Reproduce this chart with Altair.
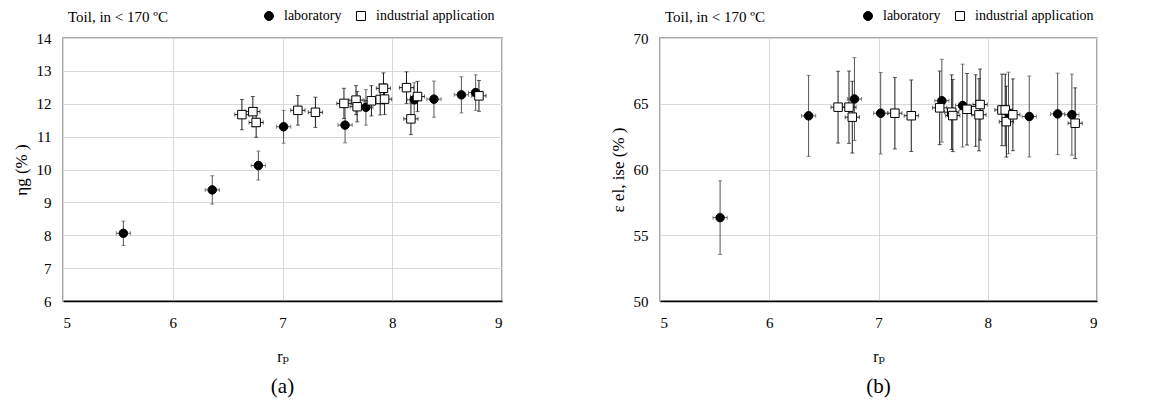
import altair as alt
import pandas as pd

FONT = "'Liberation Serif', 'Times New Roman', Times, 'DejaVu Serif', serif"
GROUPS = ["laboratory", "industrial application"]
ERR_COLORS = ["#555555", "#1a1a1a"]
NOTE = "Toil, in  < 170 ºC"

# ---- panel (a): eta_g ----
a_lab_x = [5.55, 6.36, 6.78, 7.01, 7.57, 7.76, 8.20, 8.38, 8.63, 8.76]
a_lab_y = [8.06, 9.38, 10.12, 11.30, 11.35, 11.89, 12.12, 12.14, 12.27, 12.34]
a_lab_e = [0.37, 0.43, 0.44, 0.50, 0.54, 0.54, 0.52, 0.55, 0.55, 0.54]
a_ind_x = [6.63, 6.73, 6.76, 7.14, 7.30, 7.56, 7.67, 7.68, 7.81, 7.89, 7.92, 7.93, 8.13, 8.17, 8.23, 8.79]
a_ind_y = [11.67, 11.76, 11.43, 11.80, 11.74, 12.01, 12.11, 11.91, 12.09, 12.13, 12.47, 12.14, 12.49, 11.54, 12.22, 12.24]
a_ind_e = [0.46, 0.46, 0.45, 0.45, 0.46, 0.46, 0.44, 0.46, 0.46, 0.47, 0.47, 0.47, 0.48, 0.48, 0.46, 0.47]
a_lab_xe = [0.065] * 10
a_ind_xe = [0.065] * 16

# ---- panel (b): epsilon el, ise ----
b_lab_x = [5.55, 6.36, 6.78, 7.02, 7.58, 7.77, 8.19, 8.38, 8.64, 8.77]
b_lab_y = [56.34, 64.08, 65.36, 64.28, 65.23, 64.86, 64.30, 64.03, 64.23, 64.17]
b_lab_e = [2.80, 3.08, 3.15, 3.10, 3.15, 3.15, 3.10, 3.08, 3.10, 3.08]
b_ind_x = [6.63, 6.73, 6.76, 7.15, 7.30, 7.56, 7.67, 7.68, 7.81, 7.89, 7.93, 7.92, 8.13, 8.16, 8.17, 8.23, 8.80]
b_ind_y = [64.74, 64.74, 63.98, 64.28, 64.09, 64.69, 64.36, 64.10, 64.58, 64.48, 64.94, 64.16, 64.53, 64.53, 63.64, 64.16, 63.52]
b_ind_e = [2.73, 2.75, 2.73, 2.72, 2.72, 2.80, 2.84, 2.74, 2.72, 2.72, 2.70, 2.74, 2.72, 2.72, 2.70, 2.73, 2.69]
b_lab_xe = [0.065] * 10
b_ind_xe = [0.065] * 17


def make_df(lx, ly, le, lxe, ix, iy, ie, ixe):
    rows = []
    for g, xs, ys, es, xes in [(GROUPS[0], lx, ly, le, lxe), (GROUPS[1], ix, iy, ie, ixe)]:
        for x, y, e, xe in zip(xs, ys, es, xes):
            rows.append({"group": g, "x": x, "y": y, "ylo": y - e, "yhi": y + e,
                         "xlo": x - xe, "xhi": x + xe})
    return pd.DataFrame(rows)


def panel(df, ydom, ytickvals, ytitle, letter, width, legx):
    xs = alt.Scale(domain=[5, 9], nice=False, zero=False)
    ys = alt.Scale(domain=ydom, nice=False, zero=False)
    xaxis = alt.Axis(title="rₚ", values=[5, 6, 7, 8, 9], format="d", labelPadding=14,
                     titlePadding=18, grid=True)
    yaxis = alt.Axis(title=ytitle, values=ytickvals, format="d", labelPadding=12,
                     titlePadding=6, grid=True, titleFontSize=17)
    layers = []
    for g, col in zip(GROUPS, ERR_COLORS):
        base = alt.Chart(df).transform_filter(alt.datum.group == g)
        layers += [
            base.mark_rule(strokeWidth=1, color=col).encode(
                x=alt.X("x:Q", scale=xs, axis=xaxis), y=alt.Y("ylo:Q", scale=ys, axis=yaxis), y2="yhi:Q"),
            base.mark_tick(orient="horizontal", size=4, thickness=1, color=col).encode(
                x=alt.X("x:Q", scale=xs, axis=xaxis), y=alt.Y("ylo:Q", scale=ys, axis=yaxis)),
            base.mark_tick(orient="horizontal", size=4, thickness=1, color=col).encode(
                x=alt.X("x:Q", scale=xs, axis=xaxis), y=alt.Y("yhi:Q", scale=ys, axis=yaxis)),
            base.mark_rule(strokeWidth=1, color=col).encode(
                x=alt.X("xlo:Q", scale=xs, axis=xaxis), x2="xhi:Q", y=alt.Y("y:Q", scale=ys, axis=yaxis)),
            base.mark_tick(orient="vertical", size=4, thickness=1, color=col).encode(
                x=alt.X("xlo:Q", scale=xs, axis=xaxis), y=alt.Y("y:Q", scale=ys, axis=yaxis)),
            base.mark_tick(orient="vertical", size=4, thickness=1, color=col).encode(
                x=alt.X("xhi:Q", scale=xs, axis=xaxis), y=alt.Y("y:Q", scale=ys, axis=yaxis)),
        ]
    leg = alt.Legend(title=None, orient="none", legendX=legx, legendY=-29, direction="horizontal",
                     labelFont=FONT, labelFontSize=14, labelColor="black", symbolSize=80,
                     symbolStrokeColor="black", symbolStrokeWidth=1, columnPadding=12,
                     labelOffset=8, padding=0)
    pts = alt.Chart(df).mark_point(filled=True, strokeWidth=1, size=72, opacity=1).encode(
        x=alt.X("x:Q", scale=xs, axis=xaxis), y=alt.Y("y:Q", scale=ys, axis=yaxis),
        shape=alt.Shape("group:N", scale=alt.Scale(domain=GROUPS, range=["circle", "square"]), legend=leg),
        fill=alt.Fill("group:N", scale=alt.Scale(domain=GROUPS, range=["black", "white"]), legend=leg),
        stroke=alt.Stroke("group:N", scale=alt.Scale(domain=GROUPS, range=["black", "black"]), legend=leg),
    )
    note = alt.Chart(pd.DataFrame({"t": [NOTE]})).mark_text(
        align="left", baseline="middle", font=FONT, fontSize=15, color="black").encode(
        x=alt.value(5), y=alt.value(-21), text="t:N")
    return alt.layer(*layers, pts, note).properties(
        width=width, height=263,
        title=alt.TitleParams(letter, orient="bottom", fontSize=21, font=FONT, fontWeight="normal",
                              anchor="middle", frame="group", offset=12, color="black"))


dfa = make_df(a_lab_x, a_lab_y, a_lab_e, a_lab_xe, a_ind_x, a_ind_y, a_ind_e, a_ind_xe)
dfb = make_df(b_lab_x, b_lab_y, b_lab_e, b_lab_xe, b_ind_x, b_ind_y, b_ind_e, b_ind_xe)

pa = panel(dfa, [6, 14], [6, 7, 8, 9, 10, 11, 12, 13, 14], "ηg (% )", "(a)", 439, 199)
pb = panel(dfb, [50, 70], [50, 55, 60, 65, 70], "ε el, ise (% )", "(b)", 437, 201)

chart = alt.hconcat(pa, pb, spacing=105).resolve_scale(
    shape="independent", fill="independent", stroke="independent").properties(
    padding={"left": 3, "top": 0, "right": 0, "bottom": 0}
).configure_view(stroke="#8c8c8c", strokeWidth=1.5).configure_axis(
    labelFont=FONT, labelFontSize=15, labelColor="black", titleFont=FONT, titleFontSize=16,
    titleFontWeight="normal", titleColor="black", gridColor="#d9d9d9", gridWidth=1,
    ticks=False, domain=False
).configure_axisX(domain=True, domainColor="black", domainWidth=1.5)

chart.save("out.html", embed_options={"renderer": "svg", "actions": False})
